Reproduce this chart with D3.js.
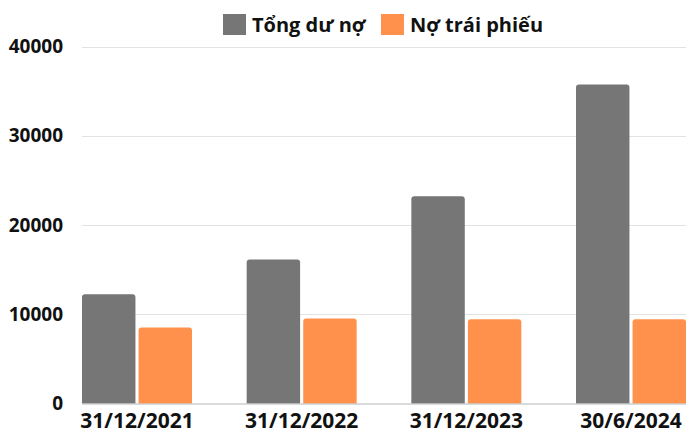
<!DOCTYPE html>
<html><head><meta charset="utf-8">
<script src="https://cdn.jsdelivr.net/npm/d3@7"></script>
<style>body{margin:0;background:#fff}svg{display:block}text{font-family:"Open Sans",sans-serif;font-weight:700;fill:#111}</style>
</head><body><svg id="c" width="700" height="441"></svg>
<script>
(function(){
const categories = ["31/12/2021","31/12/2022","31/12/2023","30/6/2024"];
const seriesNames = ["Tổng dư nợ","Nợ trái phiếu"];
const tongDuNo = [12250, 16130, 23210, 35740];
const noTraiPhieu = [8520, 9530, 9450, 9450];
const yTicks = [0,10000,20000,30000,40000];
const colors = ["#767676","#FF914D"];

const svg = d3.select("#c");
const mLeft = 82, mRight = 686, mTop = 46.5, mBottom = 403.5;
const x = d3.scaleBand().domain(categories).range([mLeft,mRight]).paddingInner(0.332).paddingOuter(0);
const xs = d3.scaleBand().domain(seriesNames).range([0,x.bandwidth()]).paddingInner(0.055);
const y = d3.scaleLinear().domain([0,40000]).range([mBottom,mTop]);

svg.append("g").selectAll("line").data(yTicks.filter(d=>d>0)).join("line")
  .attr("x1",mLeft).attr("x2",mRight).attr("y1",d=>Math.round(y(d))+0.5).attr("y2",d=>Math.round(y(d))+0.5)
  .attr("stroke","#e3e3e3").attr("stroke-width",1);

const ya = svg.append("g").attr("transform",`translate(${mLeft},0)`)
  .call(d3.axisLeft(y).tickValues(yTicks).tickSize(0).tickPadding(19).tickFormat(d3.format("d")));
ya.select(".domain").remove();
ya.selectAll("text").style("font-size","19px").style("font-family","'Open Sans',sans-serif").style("font-weight","700").attr("fill","#111");

const data = categories.map((c,i)=>({c, vals:[tongDuNo[i], noTraiPhieu[i]]}));
function topRounded(x0,y0,w,h,r){
  r=Math.min(r,h,w/2);
  return `M${x0},${y0+h}V${y0+r}Q${x0},${y0} ${x0+r},${y0}H${x0+w-r}Q${x0+w},${y0} ${x0+w},${y0+r}V${y0+h}Z`;
}
const g = svg.append("g").selectAll("g").data(data).join("g").attr("transform",d=>`translate(${x(d.c)},0)`);
g.selectAll("path").data(d=>d.vals.map((v,j)=>({v,s:seriesNames[j],j}))).join("path")
  .attr("d",d=>topRounded(xs(d.s), y(d.v), xs.bandwidth(), y(0)-y(d.v), 3))
  .attr("fill",d=>colors[d.j]);

svg.append("line").attr("x1",mLeft).attr("x2",mRight).attr("y1",mBottom+0.5).attr("y2",mBottom+0.5).attr("stroke","#b5b5b5");

const xa = svg.append("g").attr("transform",`translate(0,${mBottom})`)
  .call(d3.axisBottom(x).tickSize(0).tickPadding(8));
xa.select(".domain").remove();
xa.selectAll("text").style("font-size","21px").style("font-family","'Open Sans',sans-serif").style("font-weight","700").attr("fill","#111")
  .attr("y",24.5).attr("dy",0);

const legX = [223, 381];
const lg = svg.append("g").selectAll("g").data(seriesNames).join("g").attr("transform",(d,i)=>`translate(${legX[i]},14)`);
lg.append("rect").attr("width",23).attr("height",21).attr("fill",(d,i)=>colors[i]);
lg.append("text").attr("x",29).attr("y",18).style("font-size","20px").text(d=>d);
})();
</script></body></html>
